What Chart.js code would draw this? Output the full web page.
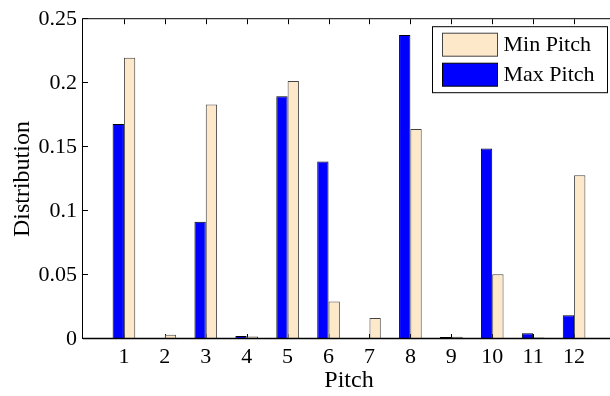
<!DOCTYPE html>
<html>
<head>
<meta charset="utf-8">
<script src="https://cdn.jsdelivr.net/npm/chart.js@4/dist/chart.umd.min.js"></script>
<style>
    html, body { margin: 0; padding: 0; background: #fff; }
    #wrap { width: 610px; height: 396px; overflow: hidden; }
    canvas { display: block; }
</style>
</head>
<body>
<div id="wrap"><canvas id="pitchChart" width="630" height="396"></canvas></div>
<script>
// Datos
const pitches = [1, 2, 3, 4, 5, 6, 7, 8, 9, 10, 11, 12];
const pitchLabels = ['1', '2', '3', '4', '5', '6', '7', '8', '9', '10', '11', '12'];
const maxPitch = [0.168, 0.0005, 0.0916, 0.0023, 0.1898, 0.1387, 0.0004, 0.2377, 0.0015, 0.1489, 0.0044, 0.0185];
const minPitch = [0.2199, 0.0034, 0.1834, 0.0019, 0.2016, 0.0293, 0.0165, 0.1641, 0.0017, 0.0507, 0.0012, 0.128];
const yTicks = [0, 0.05, 0.1, 0.15, 0.2, 0.25];
const yTickLabels = ['0', '0.05', '0.1', '0.15', '0.2', '0.25'];

const FONT = "'Liberation Serif', 'Times New Roman', serif";
const TICK_LEN = 5;

// Marco, ticks hacia adentro (estilo MATLAB)
const axesFramePlugin = {
    id: 'axesFrame',
    beforeDatasetsDraw(chart) {
        const { ctx, chartArea: a, scales } = chart;
        ctx.save();
        ctx.strokeStyle = '#000';
        ctx.lineWidth = 1;
        ctx.beginPath();
        scales.y.ticks.forEach(t => {
            const y = Math.round(scales.y.getPixelForValue(t.value)) - 0.5;
            ctx.moveTo(a.left, y); ctx.lineTo(a.left + TICK_LEN, y);
            ctx.moveTo(a.right, y); ctx.lineTo(a.right - TICK_LEN, y);
        });
        scales.x.ticks.forEach(t => {
            const x = Math.round(scales.x.getPixelForValue(t.value)) + 0.5;
            ctx.moveTo(x, a.top); ctx.lineTo(x, a.top + TICK_LEN);
            ctx.moveTo(x, a.bottom); ctx.lineTo(x, a.bottom - TICK_LEN);
        });
        ctx.stroke();
        ctx.strokeRect(a.left - 0.5, a.top - 0.5, a.right - a.left, a.bottom - a.top);
        ctx.restore();
    },
    afterDatasetsDraw(chart) {
        // linea base en cero
        const { ctx, chartArea: a, scales } = chart;
        const y0 = scales.y.getPixelForValue(0) - 0.5;
        ctx.save();
        ctx.strokeStyle = '#000';
        ctx.lineWidth = 1.6;
        ctx.beginPath();
        ctx.moveTo(a.left, y0);
        ctx.lineTo(a.right, y0);
        ctx.stroke();
        ctx.restore();
    }
};

// Leyenda dentro del area (orden invertido como en la figura)
const boxLegendPlugin = {
    id: 'boxLegend',
    afterDraw(chart) {
        const { ctx, chartArea: a } = chart;
        const boxW = 175, boxH = 66;
        const bx = a.right - 8 - boxW + 0.5;
        const by = a.top + 7 + 0.5;
        ctx.save();
        ctx.fillStyle = '#fff';
        ctx.fillRect(bx, by, boxW, boxH);
        ctx.strokeStyle = '#000';
        ctx.lineWidth = 1;
        ctx.strokeRect(bx, by, boxW, boxH);

        const items = chart.data.datasets.slice().reverse();
        ctx.font = '22px ' + FONT;
        ctx.textBaseline = 'middle';
        items.forEach((ds, i) => {
            const cy = by + 18 + i * 30;
            ctx.fillStyle = ds.backgroundColor;
            ctx.fillRect(bx + 10, cy - 11.5, 55, 23);
            ctx.strokeStyle = ds.borderColor;
            ctx.strokeRect(bx + 10, cy - 11.5, 55, 23);
            ctx.fillStyle = '#000';
            ctx.fillText(ds.label, bx + 71, cy + 1);
        });
        ctx.restore();
    }
};

const toPoints = values => pitches.map((p, i) => ({ x: p, y: values[i] }));

const chart = new Chart(document.getElementById('pitchChart'), {
    type: 'bar',
    data: {
        datasets: [
            {
                label: 'Max Pitch',
                data: toPoints(maxPitch),
                backgroundColor: '#0000ff',
                borderColor: '#000000',
                borderWidth: 1
            },
            {
                label: 'Min Pitch',
                data: toPoints(minPitch),
                backgroundColor: '#fde8c9',
                borderColor: '#444444',
                borderWidth: 1
            }
        ]
    },
    options: {
        responsive: false,
        animation: false,
        devicePixelRatio: 1,
        categoryPercentage: 0.553,
        barPercentage: 1,
        layout: { padding: { top: 15, right: 15, bottom: 0, left: 0 } },
        plugins: {
            legend: { display: false },
            tooltip: { enabled: false }
        },
        scales: {
            x: {
                type: 'linear',
                min: 0,
                max: 13,
                offset: false,
                grid: { display: false, drawTicks: false, offset: false },
                border: { display: false },
                afterBuildTicks: s => { s.ticks = pitches.map(v => ({ value: v })); },
                afterFit: s => { s.height = 57; },
                ticks: {
                    color: '#000',
                    font: { family: FONT, size: 22 },
                    padding: 5,
                    maxRotation: 0,
                    autoSkip: false,
                    callback: (v, i) => pitchLabels[i]
                },
                title: {
                    display: true,
                    text: 'Pitch',
                    color: '#000',
                    font: { family: FONT, size: 24 },
                    padding: { top: 0, bottom: 1 }
                }
            },
            y: {
                min: 0,
                max: 0.25,
                grid: { display: false, drawTicks: false },
                border: { display: false },
                afterBuildTicks: s => { s.ticks = yTicks.map(v => ({ value: v })); },
                afterFit: s => { s.width = 83; },
                ticks: {
                    color: '#000',
                    font: { family: FONT, size: 22 },
                    padding: 6,
                    callback: (v, i) => yTickLabels[i]
                },
                title: {
                    display: true,
                    text: 'Distribution',
                    color: '#000',
                    font: { family: FONT, size: 24 },
                    padding: { top: 8, bottom: 0 }
                }
            }
        }
    },
    plugins: [axesFramePlugin, boxLegendPlugin]
});
</script>
</body>
</html>
